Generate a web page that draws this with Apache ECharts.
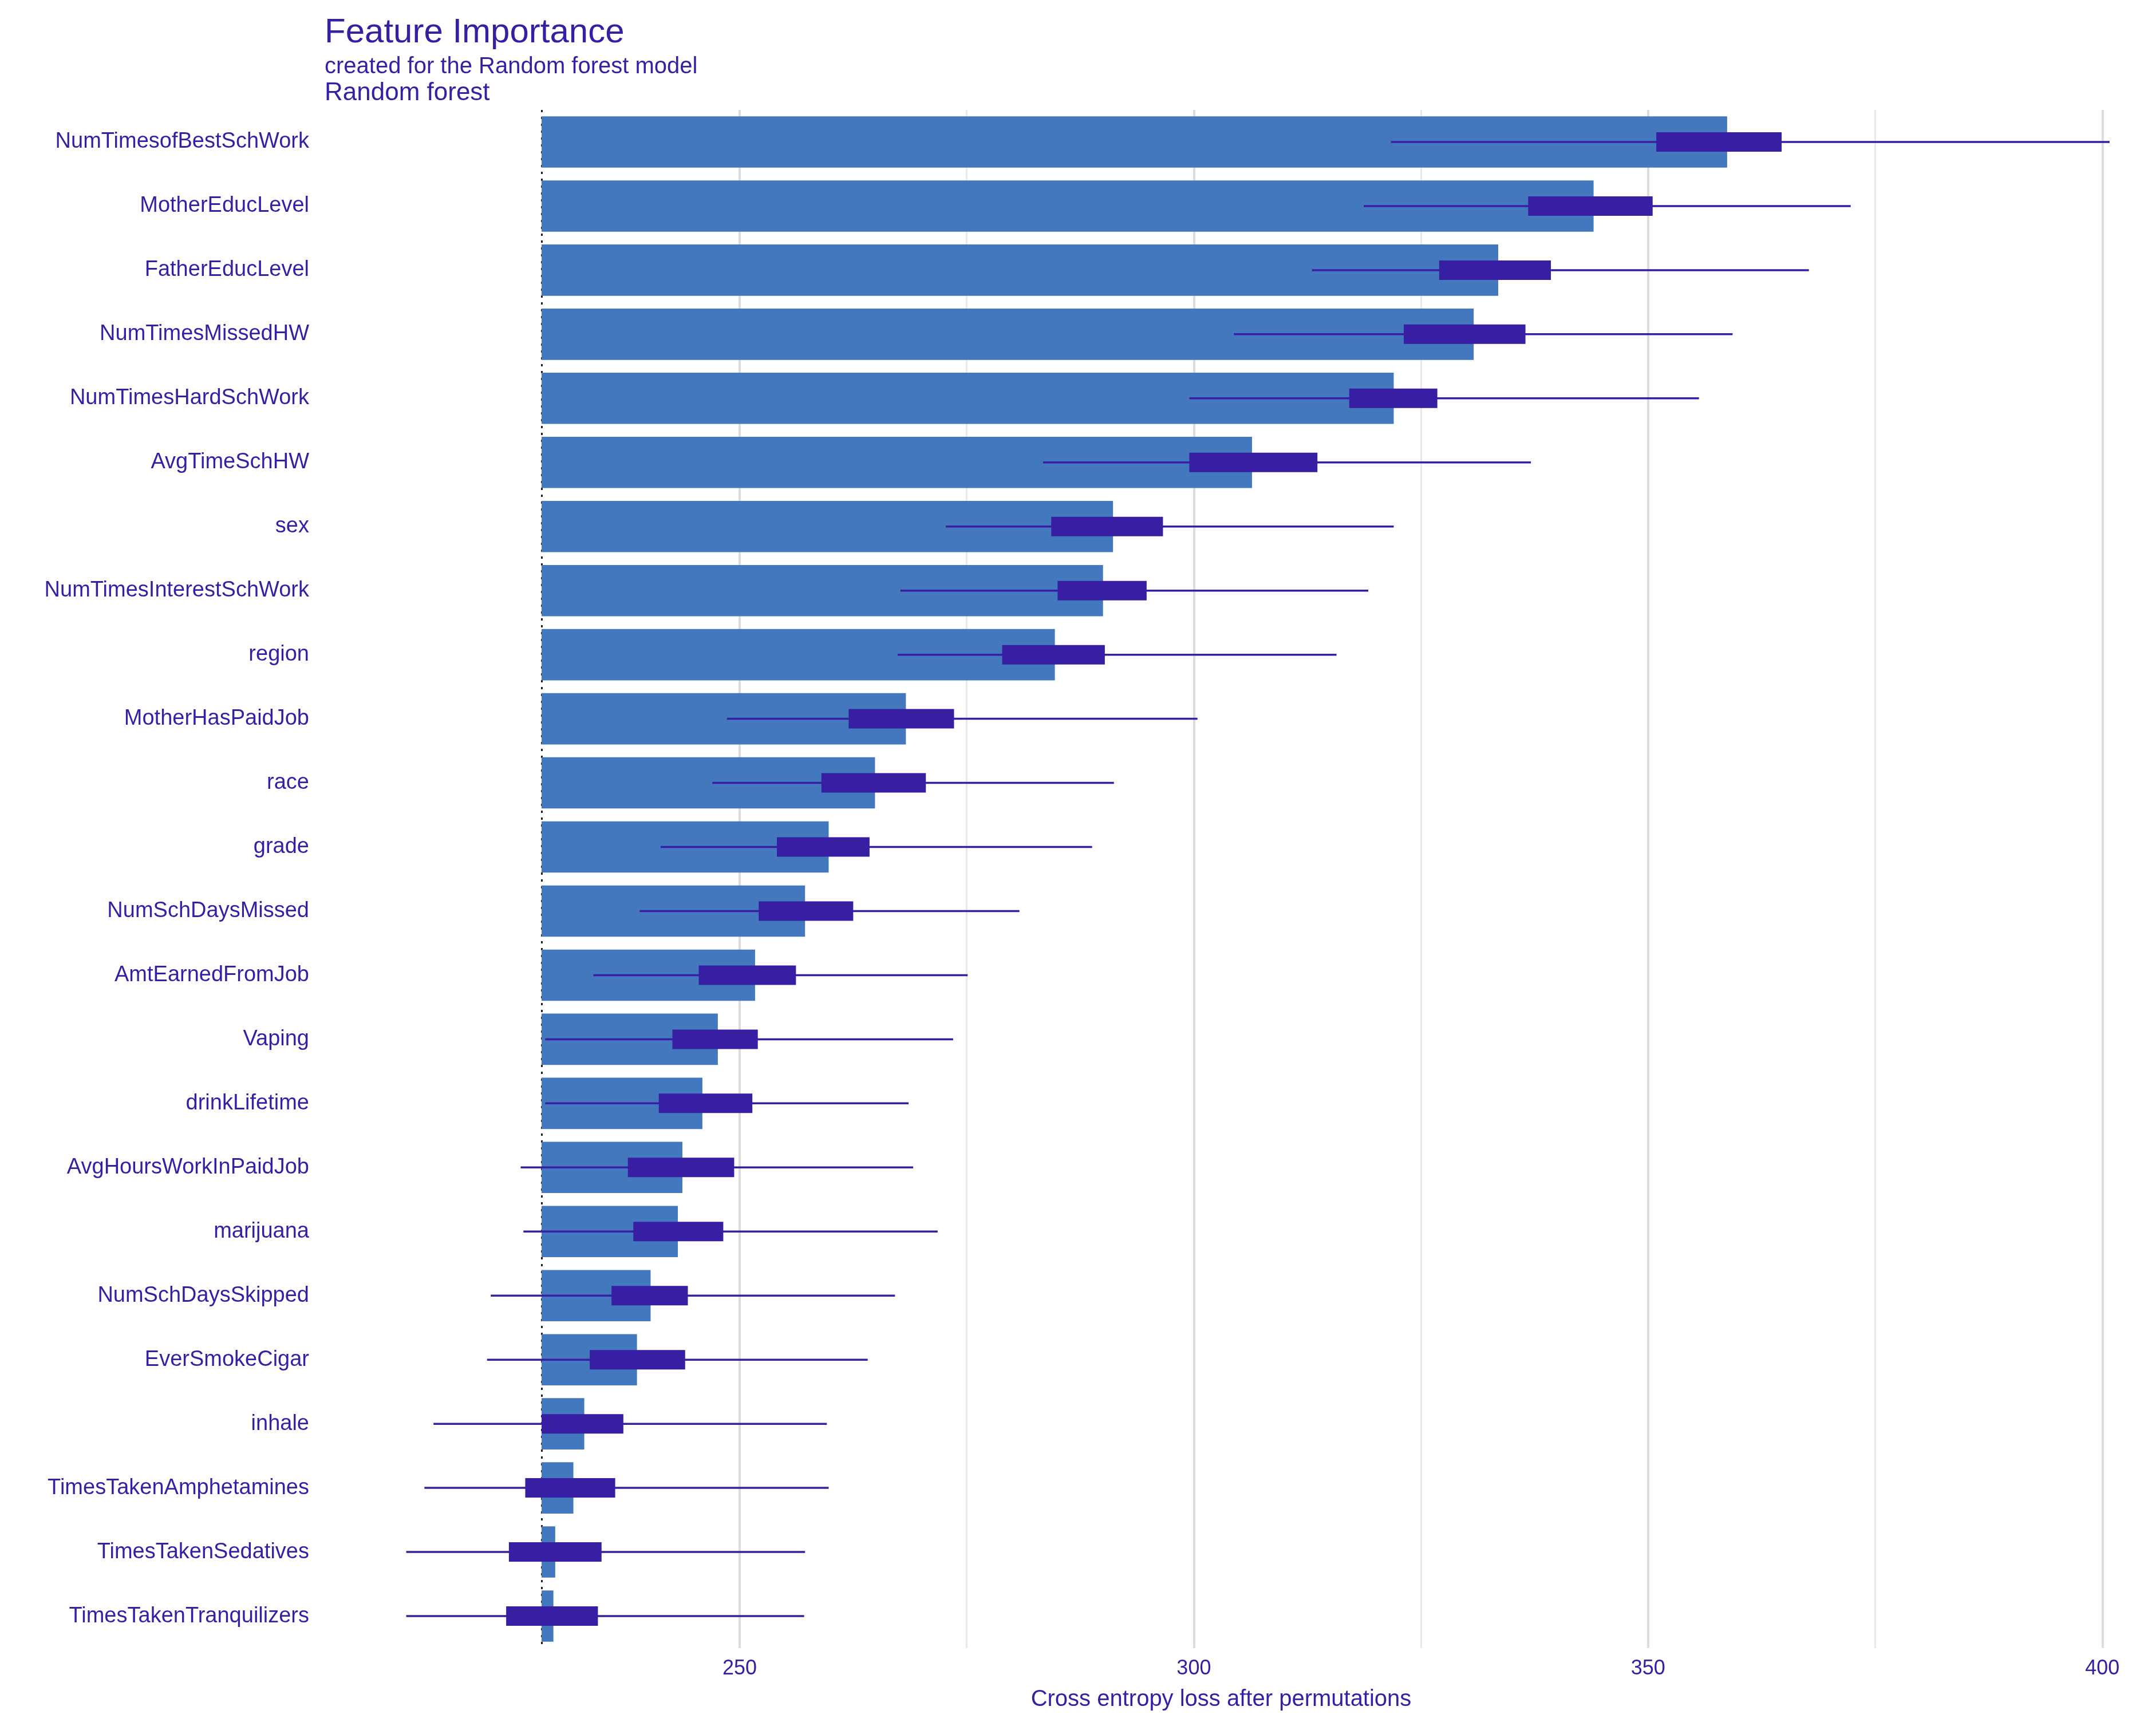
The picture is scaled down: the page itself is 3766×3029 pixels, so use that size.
<!DOCTYPE html>
<html><head><meta charset="utf-8">
<script src="https://cdn.jsdelivr.net/npm/echarts@6/dist/echarts.min.js"></script>
<style>html,body{margin:0;padding:0;background:#fff}#c{width:3766px;height:3029px}</style>
</head><body><div id="c"></div>
<script>
const categories = ["NumTimesofBestSchWork","MotherEducLevel","FatherEducLevel","NumTimesMissedHW","NumTimesHardSchWork","AvgTimeSchHW","sex","NumTimesInterestSchWork","region","MotherHasPaidJob","race","grade","NumSchDaysMissed","AmtEarnedFromJob","Vaping","drinkLifetime","AvgHoursWorkInPaidJob","marijuana","NumSchDaysSkipped","EverSmokeCigar","inhale","TimesTakenAmphetamines","TimesTakenSedatives","TimesTakenTranquilizers"];
const baseline = 228.2;
const meanLoss = [358.7,344.0,333.5,330.8,322.0,306.4,291.1,290.0,284.7,268.3,264.9,259.8,257.2,251.7,247.6,245.9,243.7,243.2,240.2,238.7,232.9,231.7,229.7,229.5];
const q1 = [350.9,336.8,327.0,323.1,317.1,299.5,284.3,285.0,278.9,262.0,259.0,254.1,252.1,245.5,242.6,241.1,237.7,238.3,235.9,233.5,228.2,226.4,224.6,224.3];
const q3 = [364.7,350.5,339.3,336.5,326.8,313.6,296.6,294.8,290.2,273.6,270.5,264.3,262.5,256.2,252.0,251.4,249.4,248.2,244.3,244.0,237.2,236.3,234.8,234.4];
const wmin = [321.7,318.7,313.0,304.4,299.5,283.4,272.7,267.7,267.4,248.6,247.0,241.3,239.0,233.9,228.6,228.6,225.9,226.2,222.6,222.2,216.3,215.3,213.3,213.3];
const wmax = [400.8,372.3,367.7,359.3,355.6,337.1,322.0,319.2,315.7,300.4,291.2,288.8,280.8,275.1,273.5,268.6,269.1,271.8,267.1,264.1,259.6,259.8,257.2,257.1];
const majorTicks = [250,300,350,400];
const minorTicks = [275,325,375];
const txt = '#371ea3';

const chart = echarts.init(document.getElementById('c'));
const gridLines = [];
majorTicks.forEach(v=>gridLines.push({xAxis:v,lineStyle:{color:'#dcdcdc',width:4,type:'solid'}}));
minorTicks.forEach(v=>gridLines.push({xAxis:v,lineStyle:{color:'#e8e8e8',width:3,type:'solid'}}));
chart.setOption({
  animation:false,
  backgroundColor:'#fff',
  title:[
    {text:'Feature Importance',left:562,top:22,textStyle:{fontFamily:'Liberation Sans',fontSize:60,fontWeight:'normal',color:txt}},
    {text:'created for the Random forest model',left:562,top:92,textStyle:{fontFamily:'Liberation Sans',fontSize:40,fontWeight:'normal',color:txt}},
    {text:'Random forest',left:562,top:136,textStyle:{fontFamily:'Liberation Sans',fontSize:44,fontWeight:'normal',color:txt}}
  ],
  grid:{left:562,right:62,top:192,bottom:150},
  xAxis:{type:'value',min:204,max:402,
    name:'Cross entropy loss after permutations',nameLocation:'middle',nameGap:70,
    nameTextStyle:{fontFamily:'Liberation Sans',fontSize:40,color:txt},
    axisLine:{show:false},axisTick:{show:false},splitLine:{show:false},
    axisLabel:{customValues:majorTicks,fontFamily:'Liberation Sans',fontSize:36,color:txt,margin:18}},
  yAxis:{type:'category',data:categories,inverse:true,
    axisLine:{show:false},axisTick:{show:false},
    axisLabel:{fontFamily:'Liberation Sans',fontSize:38,color:txt,margin:22}},
  series:[
    {type:'custom',z:2,data:meanLoss.map((v,i)=>[v,i]),
     renderItem:(p,api)=>{
       const i=api.value(1), a=api.coord([baseline,i]), b=api.coord([api.value(0),i]);
       const h=api.size([0,1])[1]*0.8;
       return {type:'rect',shape:{x:a[0],y:a[1]-h/2,width:b[0]-a[0],height:h},style:{fill:'#4378bf'}};
     },
     markLine:{silent:true,symbol:'none',label:{show:false},z:1,data:gridLines.concat([{xAxis:baseline,lineStyle:{color:'#222',width:3,type:[4,8]}}])}
    },
    {type:'custom',z:3,data:categories.map((c,i)=>[i,wmin[i],q1[i],q3[i],wmax[i]]),
     renderItem:(p,api)=>{
       const i=api.value(0);
       const w0=api.coord([api.value(1),i]), w1=api.coord([api.value(4),i]);
       const b0=api.coord([api.value(2),i]), b1=api.coord([api.value(3),i]);
       const bh=34;
       return {type:'group',children:[
         {type:'line',shape:{x1:w0[0],y1:w0[1],x2:w1[0],y2:w1[1]},style:{stroke:'#371ea3',lineWidth:3.5}},
         {type:'rect',shape:{x:b0[0],y:b0[1]-bh/2,width:b1[0]-b0[0],height:bh},style:{fill:'#371ea3'}}
       ]};
     }}
  ]
});
</script></body></html>
